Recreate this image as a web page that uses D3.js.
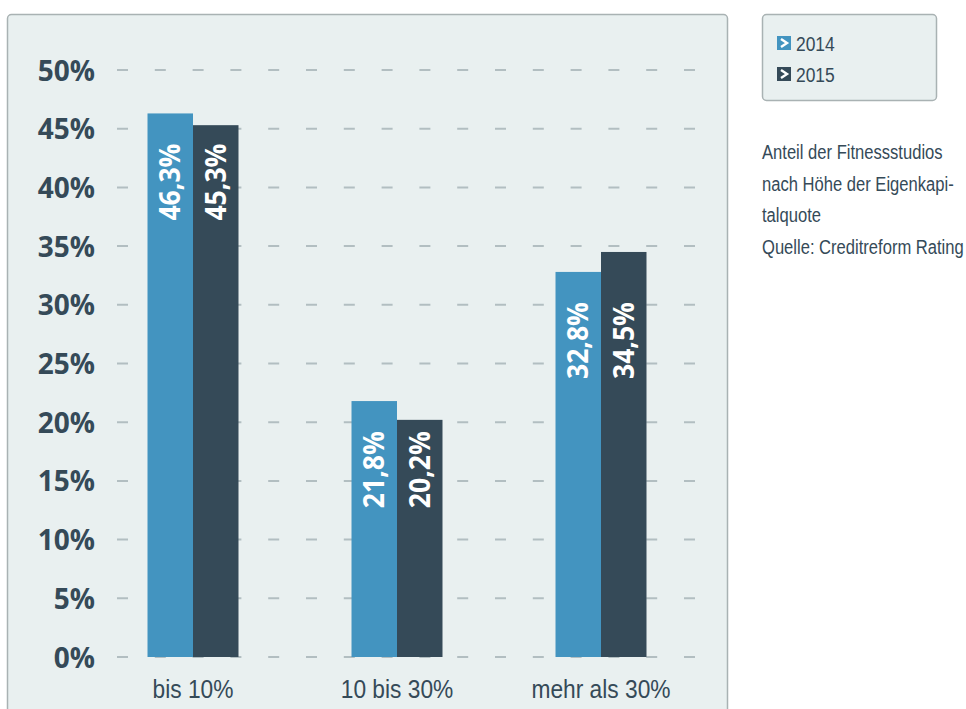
<!DOCTYPE html>
<html>
<head>
<meta charset="utf-8">
<script src="https://cdn.jsdelivr.net/npm/d3@7"></script>
<style>
  html, body { margin: 0; padding: 0; background: #ffffff; }
  svg { display: block; }
</style>
</head>
<body>
<svg id="chart" width="966" height="709"></svg>
<script>
// Share of fitness studios by equity ratio, 2014 vs 2015
const categories = ["bis 10%", "10 bis 30%", "mehr als 30%"];
const seriesNames = ["2014", "2015"];
const values2014 = [46.3, 21.8, 32.8];
const values2015 = [45.3, 20.2, 34.5];
const yTicks = [0, 5, 10, 15, 20, 25, 30, 35, 40, 45, 50];
const noteLines = ["Anteil der Fitnessstudios", "nach Höhe der Eigenkapi-", "talquote", "Quelle: Creditreform Rating"];

const colors = ["#4394c0", "#354a58"];
const textDark = "#354a58";
// condensed look: Liberation Sans squeezed horizontally
const sans = "'Liberation Sans', Arial, sans-serif";
const bold = "'Open Sans', sans-serif";

const svg = d3.select("#chart");

// chart panel
svg.append("rect")
  .attr("x", 7.5).attr("y", 14.5).attr("width", 720).attr("height", 720)
  .attr("rx", 4)
  .attr("fill", "#e9f0f0").attr("stroke", "#a9b2b3").attr("stroke-width", 1.5);

const y = d3.scaleLinear().domain([0, 50]).range([657, 70]);
const x0 = d3.scaleBand().domain(categories).range([91, 703])
  .paddingInner(0.554).paddingOuter(0.277);
const x1 = d3.scaleBand().domain(seriesNames).range([0, x0.bandwidth()]);

// dashed grid lines
svg.append("g").selectAll("line").data(yTicks).join("line")
  .attr("x1", 117).attr("x2", 699)
  .attr("y1", d => y(d)).attr("y2", d => y(d))
  .attr("stroke", "#b2bec1").attr("stroke-width", 2)
  .attr("stroke-dasharray", "11 26.8");

// y axis labels
const yAxis = d3.axisLeft(y).tickValues(yTicks).tickFormat(d => d + "%").tickSize(0).tickPadding(0);
const gy = svg.append("g").attr("transform", "translate(95,0)").call(yAxis);
gy.select(".domain").remove();
gy.selectAll("text")
  .attr("fill", textDark)
  .attr("font-family", bold)
  .attr("font-weight", 700)
  .attr("font-size", 28)
  .attr("dy", "0.36em");

// x axis labels
const xAxis = d3.axisBottom(x0).tickSize(0).tickPadding(0);
const gx = svg.append("g").attr("transform", "translate(0,698)").call(xAxis);
gx.select(".domain").remove();
gx.selectAll("text")
  .attr("fill", textDark)
  .attr("font-family", sans)
  .attr("font-size", 25)
  .attr("dy", 0)
  .attr("transform", "scale(0.91,1)");

const rows = categories.map((c, i) => ({
  category: c,
  items: [
    { key: seriesNames[0], value: values2014[i] },
    { key: seriesNames[1], value: values2015[i] }
  ]
}));

const groups = svg.append("g").selectAll("g").data(rows).join("g")
  .attr("transform", d => `translate(${x0(d.category)},0)`);

groups.selectAll("rect").data(d => d.items).join("rect")
  .attr("x", d => x1(d.key))
  .attr("y", d => y(d.value))
  .attr("width", x1.bandwidth())
  .attr("height", d => y(0) - y(d.value))
  .attr("fill", (d, i) => colors[i]);

// value labels, rotated, both hung from just below the top of the 2014 bar
groups.each(function (row) {
  const top = y(row.items[0].value) + 30;
  d3.select(this).selectAll("text.val").data(row.items).join("text")
    .attr("class", "val")
    .attr("transform", d => `translate(${x1(d.key) + x1.bandwidth() / 2},${top}) rotate(-90) scale(0.95,1)`)
    .attr("text-anchor", "end")
    .attr("dy", "0.36em")
    .attr("fill", "#ffffff")
    .attr("font-family", bold)
    .attr("font-weight", 700)
    .attr("font-size", 28)
    .text(d => d3.format(".1f")(d.value).replace(".", ",") + "%");
});

// legend
const legend = svg.append("g");
legend.append("rect")
  .attr("x", 762.5).attr("y", 14.5).attr("width", 174).attr("height", 86)
  .attr("rx", 4)
  .attr("fill", "#e9f0f0").attr("stroke", "#a9b2b3").attr("stroke-width", 1.5);
const li = legend.selectAll("g.item").data(seriesNames).join("g")
  .attr("class", "item")
  .attr("transform", (d, i) => `translate(777,${36 + i * 31})`);
li.append("rect").attr("width", 14).attr("height", 14).attr("fill", (d, i) => colors[i]);
li.append("path").attr("d", "M4,3 L10,7 L4,11")
  .attr("fill", "none").attr("stroke", "#ffffff").attr("stroke-width", 2.4);
li.append("text")
  .attr("transform", "translate(19,15) scale(0.83,1)")
  .attr("fill", textDark)
  .attr("font-family", sans)
  .attr("font-size", 21)
  .text(d => d);

// note text
svg.append("g").selectAll("text").data(noteLines).join("text")
  .attr("transform", (d, i) => `translate(762,${159 + i * 31.5}) scale(0.79,1)`)
  .attr("fill", textDark)
  .attr("font-family", sans)
  .attr("font-size", 21)
  .text(d => d);
</script>
</body>
</html>
